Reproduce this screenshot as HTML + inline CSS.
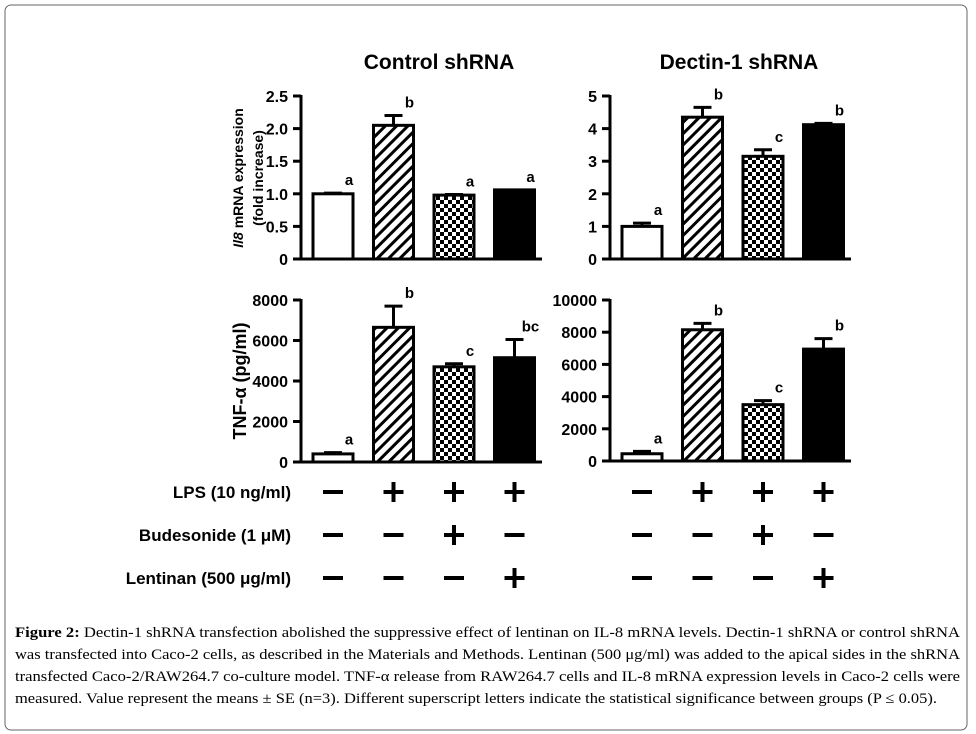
<!DOCTYPE html>
<html><head><meta charset="utf-8"><style>
body{margin:0;background:#fff}
svg{display:block}
text{font-family:"Liberation Sans",Arial,sans-serif;font-weight:bold;fill:#000}
.cap{font-family:"Liberation Serif",serif;font-weight:normal;font-size:15px}
</style></head><body>
<svg id="fig" width="976" height="734" viewBox="0 0 976 734">
<defs>
<pattern id="hatch" patternUnits="userSpaceOnUse" width="8" height="8" patternTransform="rotate(45)">
<rect width="8" height="8" fill="#fff"/><rect width="3" height="8" fill="#000"/></pattern>
<pattern id="check" patternUnits="userSpaceOnUse" width="8" height="8">
<rect width="8" height="8" fill="#fff"/><rect width="4" height="4" fill="#000"/><rect x="4" y="4" width="4" height="4" fill="#000"/></pattern>
</defs>
<rect x="5" y="5" width="962" height="725" rx="6" fill="none" stroke="#666" stroke-width="1"/>
<text x="439" y="69" font-size="21" text-anchor="middle">Control shRNA</text>
<text x="739" y="69" font-size="21" text-anchor="middle">Dectin-1 shRNA</text>
<text transform="translate(243,178) rotate(-90)" font-size="14" text-anchor="middle"><tspan font-style="italic">Il8</tspan> mRNA expression</text>
<text transform="translate(263,178) rotate(-90)" font-size="14" text-anchor="middle">(fold increase)</text>
<text transform="translate(246,381) rotate(-90)" font-size="18" text-anchor="middle">TNF-α (pg/ml)</text>
<g id="charts"></g>
<g id="rows"></g>
<text class="cap" x="15" y="637" textLength="945" lengthAdjust="spacingAndGlyphs"><tspan font-weight="bold">Figure 2:</tspan> Dectin-1 shRNA transfection abolished the suppressive effect of lentinan on IL-8 mRNA levels. Dectin-1 shRNA or control shRNA</text>
<text class="cap" x="15" y="659" textLength="945" lengthAdjust="spacingAndGlyphs">was transfected into Caco-2 cells, as described in the Materials and Methods. Lentinan (500 μg/ml) was added to the apical sides in the shRNA</text>
<text class="cap" x="15" y="681" textLength="945" lengthAdjust="spacingAndGlyphs">transfected Caco-2/RAW264.7 co-culture model. TNF-α release from RAW264.7 cells and IL-8 mRNA expression levels in Caco-2 cells were</text>
<text class="cap" x="15" y="703" textLength="922" lengthAdjust="spacingAndGlyphs">measured. Value represent the means ± SE (n=3). Different superscript letters indicate the statistical significance between groups (P ≤ 0.05).</text>
</svg>
<script>
const NS='http://www.w3.org/2000/svg';
const fills=['#fff','url(#hatch)','url(#check)','#000'];
// data
const il8CtrlVals=[1.0,2.05,0.98,1.06];
const il8CtrlErr=[0.01,0.15,0.01,0];
const il8CtrlLetters=['a','b','a','a'];
const il8CtrlTicks=['0','0.5','1.0','1.5','2.0','2.5'];
const il8DecVals=[1.0,4.35,3.15,4.12];
const il8DecErr=[0.1,0.3,0.2,0.04];
const il8DecLetters=['a','b','c','b'];
const il8DecTicks=['0','1','2','3','4','5'];
const tnfCtrlVals=[400,6650,4700,5150];
const tnfCtrlErr=[60,1050,150,900];
const tnfCtrlLetters=['a','b','c','bc'];
const tnfCtrlTicks=['0','2000','4000','6000','8000'];
const tnfDecVals=[450,8150,3500,6950];
const tnfDecErr=[150,400,250,650];
const tnfDecLetters=['a','b','c','b'];
const tnfDecTicks=['0','2000','4000','6000','8000','10000'];
const rowLabels=['LPS (10 ng/ml)','Budesonide (1 μM)','Lentinan (500 μg/ml)'];
const rowSigns=[['-','+','+','+'],['-','-','+','-'],['-','-','-','+']];

function mk(tag,attrs,parent){const e=document.createElementNS(NS,tag);for(const k in attrs)e.setAttribute(k,attrs[k]);parent.appendChild(e);return e;}
const G=document.getElementById('charts');
function chart(name,ax,top,bot,ticks,vals,errs,letters){
  const g=mk('g',{},G);
  
  
  const max=parseFloat(ticks[ticks.length-1]);
  const y=v=>bot-(v/max)*(bot-top);
  const x0=ax+12, bw=40, gap=20.5;
  vals.forEach((v,i)=>{
    const bx=x0+i*(bw+gap);
    const et=y(v+errs[i]);
    if(errs[i]>0){
      const l=mk('line',{x1:bx+bw/2,x2:bx+bw/2,y1:y(v),y2:et,stroke:'#000','stroke-width':3},g);
      
      
      const c=mk('line',{x1:bx+bw/2-9,x2:bx+bw/2+9,y1:et,y2:et,stroke:'#000','stroke-width':3},g);
      
      
    }
    const r=mk('rect',{x:bx,y:y(v),width:bw,height:bot-y(v),fill:fills[i],stroke:'#000','stroke-width':3},g);
    
    
    const t=mk('text',{x:bx+bw/2+16,y:et-8,'font-size':15,'text-anchor':'middle'},g);
    t.textContent=letters[i];
    
    
  });
  mk('line',{x1:ax,x2:ax,y1:top-1,y2:bot+1.5,stroke:'#000','stroke-width':3},g);
  mk('line',{x1:ax-1.5,x2:ax+241,y1:bot,y2:bot,stroke:'#000','stroke-width':3},g);
  ticks.forEach(tk=>{
    const ty=y(parseFloat(tk));
    mk('line',{x1:ax-8,x2:ax,y1:ty,y2:ty,stroke:'#000','stroke-width':3},g);
    const t=mk('text',{x:ax-13,y:ty+6,'font-size':16,'text-anchor':'end'},g);
    t.textContent=tk;
    
    
  });
}
chart('il8-control-chart',301,96,259,il8CtrlTicks,il8CtrlVals,il8CtrlErr,il8CtrlLetters);
chart('il8-dectin-chart',610,96,259,il8DecTicks,il8DecVals,il8DecErr,il8DecLetters);
chart('tnf-control-chart',301,300,462,tnfCtrlTicks,tnfCtrlVals,tnfCtrlErr,tnfCtrlLetters);
chart('tnf-dectin-chart',610,300,461,tnfDecTicks,tnfDecVals,tnfDecErr,tnfDecLetters);
const R=document.getElementById('rows');
const rowY=[492,535,578];
rowLabels.forEach((lab,r)=>{
  const t=mk('text',{x:291,y:rowY[r]+6,'font-size':17,'text-anchor':'end'},R);
  t.textContent=lab;
  
  
  [313,622].forEach(ax=>{
    rowSigns[r].forEach((s,i)=>{
      const cx=ax+20+i*60.5;
      mk('rect',{x:cx-10,y:rowY[r]-2,width:20,height:4,fill:'#000'},R);
      if(s==='+')mk('rect',{x:cx-2,y:rowY[r]-10,width:4,height:20,fill:'#000'},R);
    });
  });
});
</script>
</body></html>
